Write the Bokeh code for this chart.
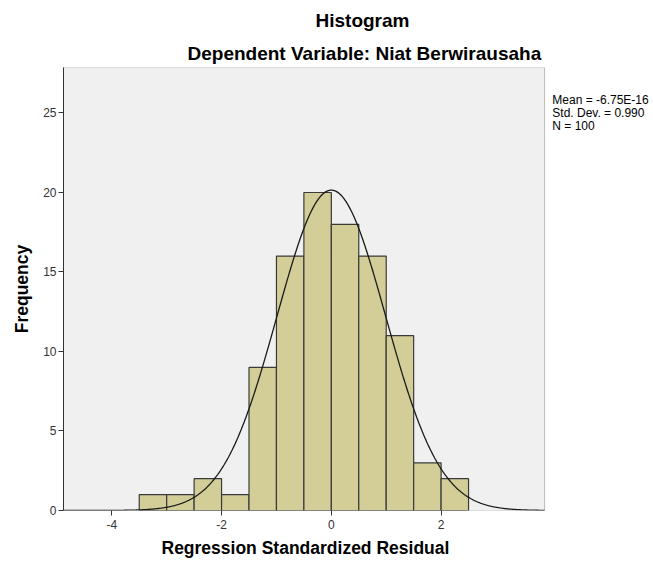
import numpy as np
from bokeh.plotting import figure
from bokeh.models import FixedTicker, Range1d, Title, Label, BoxAnnotation
from bokeh.embed import file_html
from bokeh.resources import INLINE

# Data
bin_left = [-3.5, -3.0, -2.5, -2.0, -1.5, -1.0, -0.5, 0.0, 0.5, 1.0, 1.5, 2.0]
bin_right = [-3.0, -2.5, -2.0, -1.5, -1.0, -0.5, 0.0, 0.5, 1.0, 1.5, 2.0, 2.5]
counts = [1, 1, 2, 1, 9, 16, 20, 18, 16, 11, 3, 2]
mean_val = -6.75e-16
std_val = 0.990
n_val = 100
bin_width = 0.5
x_ticks = [-4, -2, 0, 2]
x_tick_labels = ["-4", "-2", "0", "2"]
y_ticks = [0, 5, 10, 15, 20, 25]
stats_lines = ["Mean = -6.75E-16", "Std. Dev. = 0.990", "N = 100"]
title_main = "Histogram"
title_sub = "Dependent Variable: Niat Berwirausaha"
x_label = "Regression Standardized Residual"
y_label = "Frequency"

FONT = "Liberation Sans"
x0, x1 = -4.88, 3.885          # visible plot box
y0, y1 = 0, 27.86
x_ext = 5.87                    # canvas extends right for the stats text

p = figure(width=653, height=565, output_backend="svg", toolbar_location=None,
           x_range=Range1d(x0, x_ext), y_range=Range1d(y0, y1),
           min_border_left=63, min_border_right=0, min_border_top=67,
           min_border_bottom=55)
p.background_fill_color = "white"
p.border_fill_color = "white"
p.outline_line_color = None
p.grid.visible = False

# plot box background and border
p.add_layout(BoxAnnotation(left=x0, right=x1, bottom=y0, top=y1,
                           fill_color="#F0F0F0", fill_alpha=1,
                           line_color=None, level="underlay"))
p.add_layout(BoxAnnotation(left=x0, right=x1, bottom=y0, top=y1,
                           fill_alpha=0, line_color="#333333", line_width=1,
                           level="overlay"))

p.quad(left=bin_left, right=bin_right, bottom=0, top=counts,
       fill_color="#D3CE97", line_color="#3A3A3A", line_width=1.2)

xs = np.linspace(x0, x1, 600)
ys = n_val * bin_width * np.exp(-0.5 * ((xs - mean_val) / std_val) ** 2) / (std_val * np.sqrt(2 * np.pi))
p.line(xs, ys, line_color="#1a1a1a", line_width=1.3)

for ax in (p.xaxis[0], p.yaxis[0]):
    ax.axis_line_color = "#333333"
    ax.major_tick_line_color = "#333333"
    ax.major_tick_out = 5
    ax.major_tick_in = 0
    ax.minor_tick_line_color = None
    ax.major_label_text_font = FONT
    ax.major_label_text_font_size = "12px"
    ax.major_label_text_color = "#333333"
    ax.axis_label_text_font = FONT
    ax.axis_label_text_font_size = "17.5px"
    ax.axis_label_text_font_style = "bold"
    ax.axis_label_text_color = "black"

p.xaxis.axis_line_color = None
p.xaxis.ticker = FixedTicker(ticks=x_ticks)
p.xaxis.major_label_overrides = {t: s for t, s in zip(x_ticks, x_tick_labels)}
p.yaxis.ticker = FixedTicker(ticks=y_ticks)
p.yaxis.axis_label = y_label
p.xaxis.major_label_standoff = 4
p.yaxis.major_label_standoff = 2
p.yaxis.axis_label_standoff = 8

# x-axis title, centred under the plot box
p.add_layout(Title(text=x_label, align="left", offset=98, text_font=FONT,
                   text_font_size="17.5px", text_font_style="bold",
                   text_color="black", standoff=8), "below")

# Titles
p.add_layout(Title(text=title_sub, align="left", offset=124, text_font=FONT,
                   text_font_size="19px", text_font_style="bold",
                   text_color="black", standoff=8), "above")
p.add_layout(Title(text=title_main, align="left", offset=252, text_font=FONT,
                   text_font_size="19px", text_font_style="bold",
                   text_color="black", standoff=12), "above")

# Stats text to the right of the plot box
stats_y = [25.79, 25.0, 24.2]
for s, yy in zip(stats_lines, stats_y):
    p.add_layout(Label(x=4.026, y=yy, text=s, text_align="left",
                       text_baseline="middle", text_font=FONT,
                       text_font_size="12px", text_color="black"))

open("out.html", "w").write(file_html(p, INLINE))
